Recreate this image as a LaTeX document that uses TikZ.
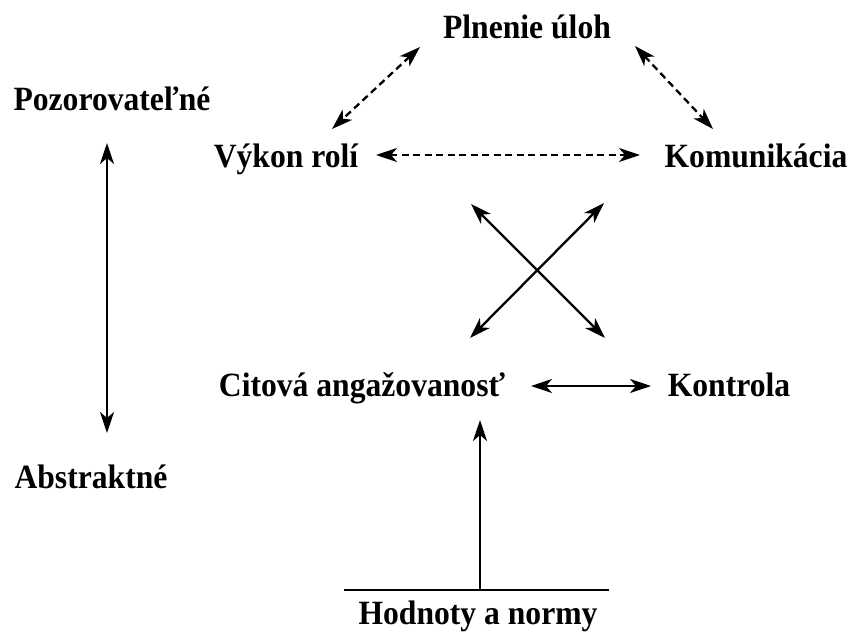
\documentclass[tikz,border=0pt]{standalone}
\usepackage{fontspec}
\usepackage{graphicx}
\setmainfont{Liberation Serif}
\usetikzlibrary{arrows.meta}
\newcommand\narrow[1]{\scalebox{0.93}[1]{#1}}
\tikzset{
  lbl/.style={font=\bfseries\fontsize{34}{40}\selectfont, inner sep=0pt, anchor=base},
  headtip/.tip={Stealth[length=21pt,width=14pt,inset=6pt]},
  link/.style={line width=2.3pt, headtip-headtip},
  dlink/.style={link, dash pattern=on 7pt off 4.5pt},
  uplink/.style={line width=2.3pt, -headtip},
  plain/.style={line width=2.8pt}
}
\begin{document}
\begin{tikzpicture}[x=1pt,y=-1pt]
\useasboundingbox (0,0) rectangle (853,640);

% labels
\node[lbl] (pu) at (527,38)  {\narrow{Plnenie úloh}};
\node[lbl] (po) at (112,110) {\narrow{Pozorovateľné}};
\node[lbl] (vr) at (286,167) {\narrow{Výkon rolí}};
\node[lbl] (ko) at (756,167) {\narrow{Komunikácia}};
\node[lbl] (ca) at (362,396) {\narrow{Citová angažovanosť}};
\node[lbl] (kt) at (729,396) {\narrow{Kontrola}};
\node[lbl] (ab) at (91,488)  {\narrow{Abstraktné}};
\node[lbl] (hn) at (478,624) {\narrow{Hodnoty a normy}};

% arrow end points
\coordinate (puL) at (420,47);
\coordinate (vrT) at (332,129);
\coordinate (puR) at (635,46);
\coordinate (koT) at (713,129);
\coordinate (vrR) at (376,155);
\coordinate (koL) at (640,155);
\coordinate (xUL) at (471,204);
\coordinate (xLR) at (605,338);
\coordinate (xUR) at (604,203);
\coordinate (xLL) at (470,338);
\coordinate (caR) at (531,386);
\coordinate (ktL) at (651,386);
\coordinate (caB) at (480,420);
\coordinate (base) at (480,590);
\coordinate (baseL) at (344,590);
\coordinate (baseR) at (609,590);
\coordinate (poB) at (107,143);
\coordinate (abT) at (107,433);

% dashed triangle
\draw[dlink] (puL) -- (vrT);
\draw[dlink] (puR) -- (koT);
\draw[dlink] (vrR) -- (koL);

% solid cross and horizontal link
\draw[link] (xUL) -- (xLR);
\draw[link] (xUR) -- (xLL);
\draw[link] (caR) -- (ktL);

% values and norms base
\draw[plain] (baseL) -- (baseR);
\draw[uplink] (base) -- (caB);

% observable / abstract axis
\draw[link] (poB) -- (abT);
\end{tikzpicture}
\end{document}
